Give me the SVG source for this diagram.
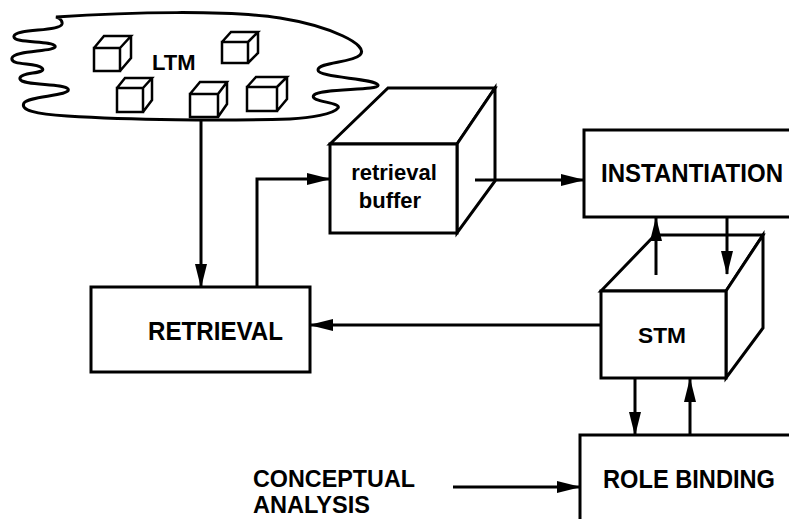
<svg xmlns="http://www.w3.org/2000/svg" width="789" height="519" viewBox="0 0 789 519">
<defs>
<marker id="ah" markerUnits="userSpaceOnUse" markerWidth="24" markerHeight="12" refX="23" refY="6" orient="auto">
<path d="M0,0 L24,6 L0,12 Z" fill="#000"/>
</marker>
<style>
.ln{fill:none;stroke:#000;stroke-width:3;stroke-linejoin:miter}
.bx{fill:#fff;stroke:#000;stroke-width:3;stroke-linejoin:miter}
.cb{fill:#fff;stroke:#000;stroke-width:2.5;stroke-linejoin:miter}
.t{font-family:"Liberation Sans",Arial,sans-serif;font-weight:bold;fill:#000}
.arr{fill:none;stroke:#000;stroke-width:3;marker-end:url(#ah)}
</style>
</defs>
<rect width="789" height="519" fill="#fff"/>

<g id="ltm">
<path class="ln" d="M56,17 C130,12 230,10 280,18 C330,26 370,45 360,55 C352,63 318,62 318,70 C318,78 375,78 378,85 C380,91 322,88 314,95 C308,102 342,102 338,108 C334,114 310,118 290,119 C220,121 130,120 67,116 C35,114 20,110 24,103 C28,96 72,96 68,89 C64,83 22,86 20,79 C18,72 48,74 42,68 C36,62 10,66 12,58 C14,50 58,52 55,46 C52,40 12,44 14,36 C16,28 60,32 62,24 C63,19 56,17 56,17 Z"/>
<g id="c1"><path class="cb" d="M94,48 h26 v23 h-26 Z M94,48 l10,-12 h27 l-11,12 M131,36 v22 l-11,13"/></g>
<g id="c2"><path class="cb" d="M222,42 h26 v21 h-26 Z M222,42 l9,-10 h27 l-10,10 M258,32 v21 l-10,10"/></g>
<g id="c3"><path class="cb" d="M117,88 h26 v24 h-26 Z M117,88 l8,-10 h27 l-9,10 M152,78 v22 l-9,12"/></g>
<g id="c4"><path class="cb" d="M190,94 h28 v23 h-28 Z M190,94 l10,-12 h27 l-9,12 M227,82 v22 l-9,13"/></g>
<g id="c5"><path class="cb" d="M247,87 h30 v24 h-30 Z M247,87 l9,-10 h31 l-10,10 M287,77 v22 l-10,12"/></g>
<text class="t" x="152" y="70" font-size="22">LTM</text>
</g>

<g id="buffer">
<path class="bx" d="M330,144 L388,88 H495 L457,144 Z"/>
<path class="bx" d="M457,144 L495,88 V181 L457,233 Z"/>
<rect class="bx" x="330" y="144" width="127" height="89"/>
<text class="t" x="394" y="180" font-size="22" text-anchor="middle">retrieval</text>
<text class="t" x="390" y="208" font-size="22" text-anchor="middle">buffer</text>
</g>

<g id="instantiation">
<rect class="bx" x="584" y="130" width="220" height="87"/>
<text class="t" x="601" y="182" font-size="25" textLength="182" lengthAdjust="spacingAndGlyphs">INSTANTIATION</text>
</g>

<g id="stm">
<path class="bx" d="M601,291 L655,235 H763 L726,291 Z"/>
<path class="bx" d="M726,291 L763,235 V328 L726,378 Z"/>
<rect class="bx" x="601" y="291" width="125" height="87"/>
<text class="t" x="638" y="343" font-size="22" textLength="48" lengthAdjust="spacingAndGlyphs">STM</text>
</g>

<g id="retrieval">
<rect class="bx" x="91" y="287" width="219" height="85"/>
<text class="t" x="148" y="340" font-size="25" textLength="135" lengthAdjust="spacingAndGlyphs">RETRIEVAL</text>
</g>

<g id="rolebinding">
<rect class="bx" x="580" y="435" width="230" height="100"/>
<text class="t" x="603" y="488" font-size="25" textLength="172" lengthAdjust="spacingAndGlyphs">ROLE BINDING</text>
</g>

<g id="conceptual">
<text class="t" x="253" y="487" font-size="23" textLength="162" lengthAdjust="spacingAndGlyphs">CONCEPTUAL</text>
<text class="t" x="253" y="513" font-size="23" textLength="117" lengthAdjust="spacingAndGlyphs">ANALYSIS</text>
</g>

<g id="connectors">
<path class="arr" d="M201,120 V287"/>
<path class="arr" d="M257,287 V179 H330"/>
<path class="arr" d="M475,180 H584"/>
<path class="arr" d="M656,275 V218"/>
<path class="arr" d="M727,218 V274"/>
<path class="arr" d="M601,325 H310"/>
<path class="arr" d="M635,379 V435"/>
<path class="arr" d="M690,435 V379"/>
<path class="arr" d="M453,487 H580"/>
</g>
</svg>
